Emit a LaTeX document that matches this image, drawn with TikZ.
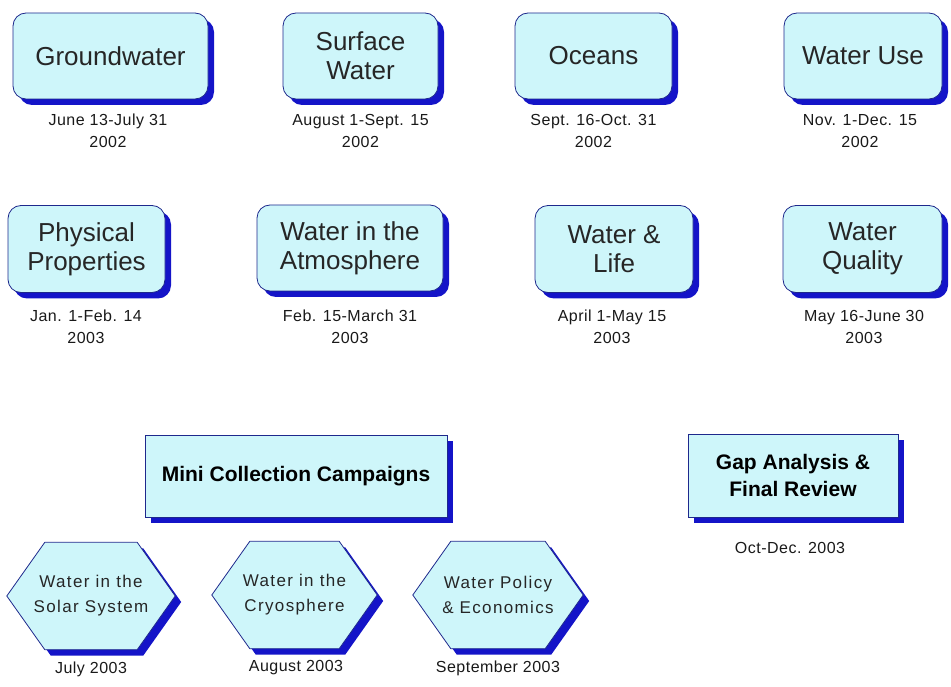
\documentclass[tikz,border=0pt]{standalone}
\usepackage{fontspec}
\setmainfont{Liberation Sans}
\newfontfamily\datefont[LetterSpace=3]{Liberation Sans}
\newfontfamily\hexfont[LetterSpace=8]{Liberation Sans}
\usetikzlibrary{shadows,backgrounds}
\definecolor{boxfill}{RGB}{206,246,250}
\definecolor{boxline}{RGB}{30,40,140}
\definecolor{shadowblue}{RGB}{20,20,200}
\tikzset{
  blueshadow/.style={drop shadow={shadow xshift=6pt,shadow yshift=-6pt,fill=shadowblue,opacity=1}},
  topic/.style={draw=boxline,line width=0.8pt,fill=boxfill,rounded corners=13pt,
    align=center,inner sep=0pt,text=black!85,blueshadow,
    font=\fontsize{26}{29}\selectfont},
  campaign/.style={draw=boxline,line width=0.8pt,fill=boxfill,rectangle,
    align=center,inner sep=0pt,text=black,blueshadow,
    font=\bfseries\fontsize{21}{27}\selectfont},
  minihex/.style={rectangle,align=center,inner sep=0pt,text=black!85,
    minimum width=168pt,minimum height=107pt,
    font=\hexfont\fontsize{17}{25}\selectfont},
  hexoutline/.style={draw=boxline,line width=0.8pt,fill=boxfill,blueshadow},
  datelabel/.style={align=center,inner sep=0pt,text=black!90,
    font=\datefont\fontsize{16}{22}\selectfont}
}
\newcommand{\hexaround}[1]{%
  \begin{pgfonlayer}{background}
  \path[hexoutline] (#1.west) -- ([xshift=38pt]#1.north west) -- ([xshift=-38pt]#1.north east)
    -- (#1.east) -- ([xshift=-38pt]#1.south east) -- ([xshift=38pt]#1.south west) -- cycle;
  \end{pgfonlayer}}
\begin{document}
\begin{tikzpicture}[x=1pt,y=-1pt]
\useasboundingbox (0,0) rectangle (951,687);
% row 1
\node[topic,minimum width=195pt,minimum height=86pt] (gw) at (110.5,56) {Groundwater};
\node[topic,minimum width=155pt,minimum height=86pt] (sw) at (360.5,56) {Surface\\Water};
\node[topic,minimum width=157pt,minimum height=86pt] (oc) at (593.5,56) {Oceans};
\node[topic,minimum width=158pt,minimum height=86pt] (wu) at (863,56) {Water Use};
\node[datelabel] (gwd) at (108,131) {June 13-July 31\\2002};
\node[datelabel] (swd) at (360.5,131) {August 1-Sept. 15\\2002};
\node[datelabel] (ocd) at (593.5,131) {Sept. 16-Oct. 31\\2002};
\node[datelabel] (wud) at (860,131) {Nov. 1-Dec. 15\\2002};
% row 2
\node[topic,minimum width=157pt,minimum height=87pt] (pp) at (86.5,249) {Physical\\Properties};
\node[topic,minimum width=186pt,minimum height=86pt] (wa) at (350,248) {Water in the\\Atmosphere};
\node[topic,minimum width=158pt,minimum height=87pt] (wl) at (614,249) {Water \&\\Life};
\node[topic,minimum width=159pt,minimum height=87pt] (wq) at (862.5,249) {Water\\Quality};
\node[datelabel] (ppd) at (86,327) {Jan. 1-Feb. 14\\2003};
\node[datelabel] (wad) at (350,327) {Feb. 15-March 31\\2003};
\node[datelabel] (wld) at (612,327) {April 1-May 15\\2003};
\node[datelabel] (wqd) at (864,327) {May 16-June 30\\2003};
% row 3
\node[campaign,minimum width=302pt,minimum height=82pt] (mcc) at (296,476) {Mini Collection Campaigns};
\node[campaign,minimum width=210pt,minimum height=83pt] (gap) at (793,475.5) {Gap Analysis \&\\Final Review};
\node[datelabel] (gapd) at (790,548) {Oct-Dec. 2003};
% hexagons
\node[minihex] (ss) at (91,596) {Water in the\\Solar System};
\hexaround{ss}
\node[minihex,minimum width=165pt] (cr) at (294.5,595) {Water in the\\Cryosphere};
\hexaround{cr}
\node[minihex,minimum width=170pt] (pe) at (498,595) {Water Policy\\\& Economics};
\hexaround{pe}
\node[datelabel] (ssd) at (91,669) {July 2003};
\node[datelabel] (crd) at (296,668) {August 2003};
\node[datelabel] (ped) at (498,668) {September 2003};
\end{tikzpicture}
\end{document}
